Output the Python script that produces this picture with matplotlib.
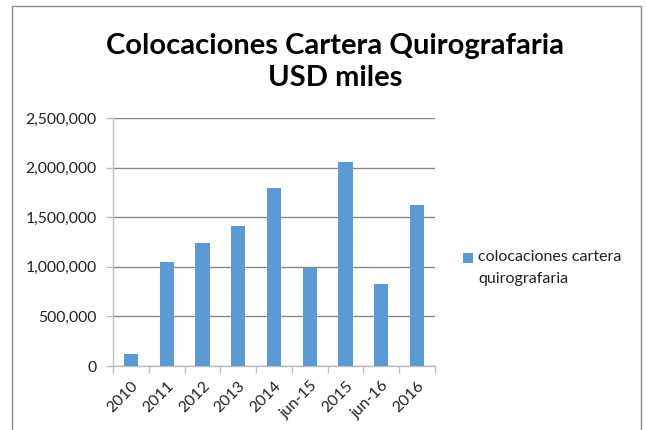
import matplotlib
matplotlib.use("Agg")
import matplotlib.pyplot as plt
from matplotlib.patches import Rectangle
from matplotlib.ticker import FuncFormatter, FixedLocator

# data
categories = ["2010", "2011", "2012", "2013", "2014", "jun-15", "2015", "jun-16", "2016"]
colocaciones = [117000, 1051000, 1237000, 1414000, 1794000, 991000, 2053000, 830000, 1620000]
y_ticks = [0, 500000, 1000000, 1500000, 2000000, 2500000]
series_name = "colocaciones cartera\nquirografaria"

FONT = "Lato"
BAR = "#5B9BD5"
W, H = 646, 430

fig = plt.figure(figsize=(W / 100, H / 100), dpi=100)

# outer chart border (bottom runs off the picture)
fig.patches.append(Rectangle((12 / W, -0.1), 629 / W, 1.1 - 6 / H, transform=fig.transFigure,
                             fill=False, edgecolor="#8C8C8C", linewidth=1.0))

ax = fig.add_axes([113 / W, (H - 366) / H, 322 / W, 248 / H])
x = list(range(len(categories)))
ax.bar(x, colocaciones, width=0.4, color=BAR, zorder=3)

ax.set_xlim(-0.5, len(categories) - 0.5)
ax.set_ylim(0, 2500000)
ax.set_yticks(y_ticks)
ax.yaxis.set_major_formatter(FuncFormatter(lambda v, p: f"{int(v):,}"))
ax.yaxis.grid(True, color="#878787", linewidth=1.0, zorder=0)

ax.set_xticks(x)
ax.set_xticklabels(categories, rotation=45, ha="right", rotation_mode="anchor",
                   fontfamily=FONT, fontsize=11.5, color="#222222")
ax.xaxis.set_minor_locator(FixedLocator([i - 0.5 for i in range(len(categories) + 1)]))
ax.tick_params(axis="x", which="major", length=0, pad=9)
ax.tick_params(axis="x", which="minor", length=5, color="#BFBFBF", width=1)
ax.tick_params(axis="y", length=5, color="#BFBFBF", width=1, pad=7, labelsize=11.3, labelcolor="#222222")
for lab in ax.get_yticklabels():
    lab.set_fontfamily(FONT)

for side in ["top", "right"]:
    ax.spines[side].set_visible(False)
for side in ["left", "bottom"]:
    ax.spines[side].set_color("#BFBFBF")
    ax.spines[side].set_linewidth(1.0)

fig.text(335 / W, 1 - 62 / H, "Colocaciones Cartera Quirografaria\nUSD miles", ha="center", va="center",
         fontfamily=FONT, fontweight="bold", fontsize=21, linespacing=1.32, color="#000000")

# legend: square key aligned with the first text line
fig.patches.append(Rectangle((463 / W, 1 - 263 / H), 10 / W, 10 / H, transform=fig.transFigure,
                             facecolor=BAR, edgecolor="none"))
fig.text(478 / W, 1 - 250 / H, series_name, ha="left", va="top", fontfamily=FONT,
         fontsize=11.5, linespacing=1.7, color="#222222")

fig.savefig("out.png", dpi=100)
